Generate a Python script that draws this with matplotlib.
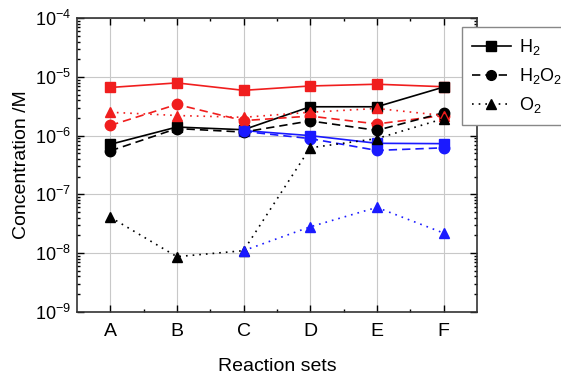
import numpy as np
import matplotlib
matplotlib.use("Agg")
import matplotlib.pyplot as plt
from matplotlib.ticker import LogLocator, FixedLocator, NullFormatter
from matplotlib.lines import Line2D

plt.rcParams['font.family'] = ['Liberation Sans', 'DejaVu Sans']
plt.rcParams['mathtext.fontset'] = 'custom'
plt.rcParams['mathtext.rm'] = 'Liberation Sans'
plt.rcParams['mathtext.it'] = 'Liberation Sans:italic'

sets = ['A', 'B', 'C', 'D', 'E', 'F']

# black series (all sets)
black_h2 = [7.1e-7, 1.4e-6, 1.26e-6, 3.1e-6, 3.1e-6, 6.7e-6]
black_h2o2 = [5.5e-7, 1.32e-6, 1.15e-6, 1.78e-6, 1.23e-6, 2.45e-6]
black_o2 = [4.1e-8, 8.7e-9, 1.1e-8, 6.2e-7, 8.9e-7, 1.94e-6]

# red series (all sets)
red_h2 = [6.6e-6, 7.9e-6, 5.9e-6, 7.0e-6, 7.5e-6, 6.8e-6]
red_h2o2 = [1.49e-6, 3.4e-6, 1.8e-6, 2.15e-6, 1.58e-6, 2.2e-6]
red_o2 = [2.5e-6, 2.2e-6, 2.05e-6, 2.5e-6, 2.9e-6, 2.2e-6]

# blue series (sets C-F)
blue_sets = ['C', 'D', 'E', 'F']
blue_h2 = [1.22e-6, 1.0e-6, 7.4e-7, 7.3e-7]
blue_h2o2 = [1.18e-6, 8.9e-7, 5.6e-7, 6.2e-7]
blue_o2 = [1.1e-8, 2.8e-8, 6.0e-8, 2.2e-8]

x = np.arange(len(sets))
xb = np.array([sets.index(s) for s in blue_sets])

fig = plt.figure(figsize=(5.61, 3.78), dpi=100)
ax = fig.add_axes([0.137, 0.175, 0.713, 0.777])

dash = (0, (5, 3))
dot = (0, (1, 3))
red = '#f01e1e'
blue = '#1a1aff'
kw = dict(lw=1.2, ms=7.5)

for xx, vals, c in [(x, red_h2, red), (x, black_h2, 'k'), (xb, blue_h2, blue)]:
    ax.plot(xx, vals, '-', marker='s', color=c, **kw)
for xx, vals, c in [(x, red_h2o2, red), (x, black_h2o2, 'k'), (xb, blue_h2o2, blue)]:
    ax.plot(xx, vals, linestyle=dash, marker='o', color=c, **kw)
for xx, vals, c in [(x, red_o2, red), (x, black_o2, 'k'), (xb, blue_o2, blue)]:
    ax.plot(xx, vals, linestyle=dot, marker='^', color=c, **kw)

ax.set_yscale('log')
ax.set_ylim(1e-9, 1e-4)
ax.set_xlim(-0.5, 5.5)
ax.set_xticks(x)
ax.set_xticklabels(sets)
ax.xaxis.set_minor_locator(FixedLocator(x[:-1] + 0.5))
ax.yaxis.set_major_locator(LogLocator(base=10, numticks=10))
ax.yaxis.set_minor_locator(LogLocator(base=10, subs=np.arange(2, 10), numticks=10))
ax.yaxis.set_minor_formatter(NullFormatter())
ax.grid(True, which='major', color='#c8c8c8', lw=0.8)
ax.set_axisbelow(True)

ax.tick_params(which='both', direction='in', top=True, right=True, labelsize=14, width=1)
ax.tick_params(which='major', length=5)
ax.tick_params(which='minor', length=2.5)
ax.tick_params(axis='y', labelsize=13, pad=4)
ax.tick_params(axis='x', pad=8)
for sp in ax.spines.values():
    sp.set_linewidth(1.2)
    sp.set_color('#333333')

ax.set_xlabel('Reaction sets', fontsize=14, labelpad=13)
ax.set_ylabel('Concentration /M', fontsize=14, labelpad=4)

handles = [
    Line2D([], [], color='k', lw=1.2, marker='s', ms=7, linestyle='-'),
    Line2D([], [], color='k', lw=1.2, marker='o', ms=7, linestyle=dash),
    Line2D([], [], color='k', lw=1.2, marker='^', ms=7, linestyle=dot),
]
labels = ['H$_2$', 'H$_2$O$_2$', 'O$_2$']
leg = fig.legend(handles, labels, loc='upper left', bbox_to_anchor=(0.823, 0.928),
                 fontsize=13, frameon=True, fancybox=False, edgecolor='#888888',
                 handlelength=2.2, handletextpad=0.4, labelspacing=0.5,
                 borderpad=0.55, borderaxespad=0, framealpha=1)
leg.get_frame().set_linewidth(1.0)

fig.savefig('out.png', dpi=100)
